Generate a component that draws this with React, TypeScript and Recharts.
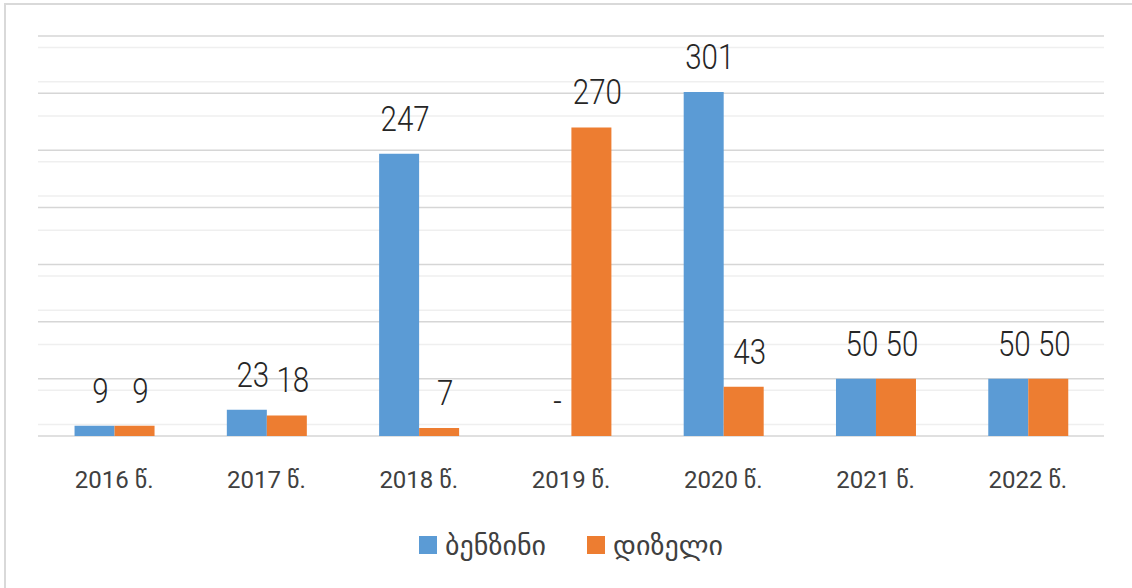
import React from "react";
import { BarChart, Bar, XAxis, YAxis, CartesianGrid, Legend, LabelList } from "recharts";

const years = ["2016 წ.", "2017 წ.", "2018 წ.", "2019 წ.", "2020 წ.", "2021 წ.", "2022 წ."];
const benzini = [9, 23, 247, 0, 301, 50, 50];
const dizeli = [9, 18, 7, 270, 43, 50, 50];
const seriesNames = ["ბენზინი", "დიზელი"];

const majorTicks = [0, 50, 100, 150, 200, 250, 300, 350];
// minor lines every 10 between the major ones
const minorTicks = Array.from({ length: 35 }, (_, i) => i * 10).filter((v) => v % 50 !== 0);

const data = years.map((year, i) => ({ year, benzini: benzini[i], dizeli: dizeli[i] }));

const FONT = "Roboto, 'DejaVu Sans', sans-serif";

// zero-height bars get dropped, keep a hairline so the "-" label still shows
const keepZero = (value: number) => (value === 0 ? 0.01 : 0);

const renderLabel = (props: any) => {
  const { x, y, width, value } = props;
  const cx = Number(x) + Number(width) / 2 + 6;
  const cy = Number(y) - 23;
  return (
    <text
      transform={`translate(${cx},${cy}) scale(0.82,1)`}
      textAnchor="middle"
      fontSize={36}
      fontWeight={300}
      fill="#262626"
      fontFamily={FONT}
    >
      {value === 0 || value == null ? "-" : value}
    </text>
  );
};

const renderLegend = (props: any) => {
  const items = props.payload || [];
  return (
    <div
      style={{
        display: "flex",
        justifyContent: "center",
        alignItems: "center",
        height: 40,
        gap: 41,
        fontFamily: FONT,
      }}
    >
      {items.map((it: any) => (
        <div key={it.value} style={{ display: "flex", alignItems: "center" }}>
          <span style={{ width: 18, height: 18, background: it.color, marginRight: 8 }} />
          <span style={{ fontSize: 28, color: "#404040" }}>{it.value}</span>
        </div>
      ))}
    </div>
  );
};

export default function App() {
  return (
    <div
      style={{
        position: "fixed",
        left: 0,
        top: 0,
        width: 1132,
        height: 588,
        background: "#fff",
        overflow: "hidden",
      }}
    >
      <div
        style={{
          position: "absolute",
          left: 4,
          top: 3,
          width: 1200,
          height: 700,
          borderLeft: "2px solid #d9d9d9",
          borderTop: "2px solid #d9d9d9",
        }}
      />
      <BarChart
        width={1132}
        height={588}
        data={data}
        margin={{ top: 36, right: 28, bottom: 23, left: 38 }}
        barCategoryGap="24%"
        barGap={0}
        style={{ fontFamily: FONT }}
      >
        <CartesianGrid vertical={false} horizontalValues={minorTicks} stroke="#efefef" strokeWidth={1.5} />
        <CartesianGrid vertical={false} horizontalValues={majorTicks} stroke="#d6d6d6" strokeWidth={1.5} />
        <YAxis hide domain={[0, 350]} ticks={majorTicks} />
        <XAxis
          dataKey="year"
          height={89}
          axisLine={false}
          tickLine={false}
          tickSize={0}
          tickMargin={35}
          tick={{ fontSize: 24, fill: "#404040", fontFamily: FONT }}
          interval={0}
        />
        <Legend verticalAlign="bottom" height={40} content={renderLegend} />
        <Bar
          dataKey="benzini"
          name={seriesNames[0]}
          fill="#5B9BD5"
          minPointSize={keepZero}
          isAnimationActive={false}
        >
          <LabelList dataKey="benzini" content={renderLabel} />
        </Bar>
        <Bar
          dataKey="dizeli"
          name={seriesNames[1]}
          fill="#ED7D31"
          minPointSize={keepZero}
          isAnimationActive={false}
        >
          <LabelList dataKey="dizeli" content={renderLabel} />
        </Bar>
      </BarChart>
    </div>
  );
}
